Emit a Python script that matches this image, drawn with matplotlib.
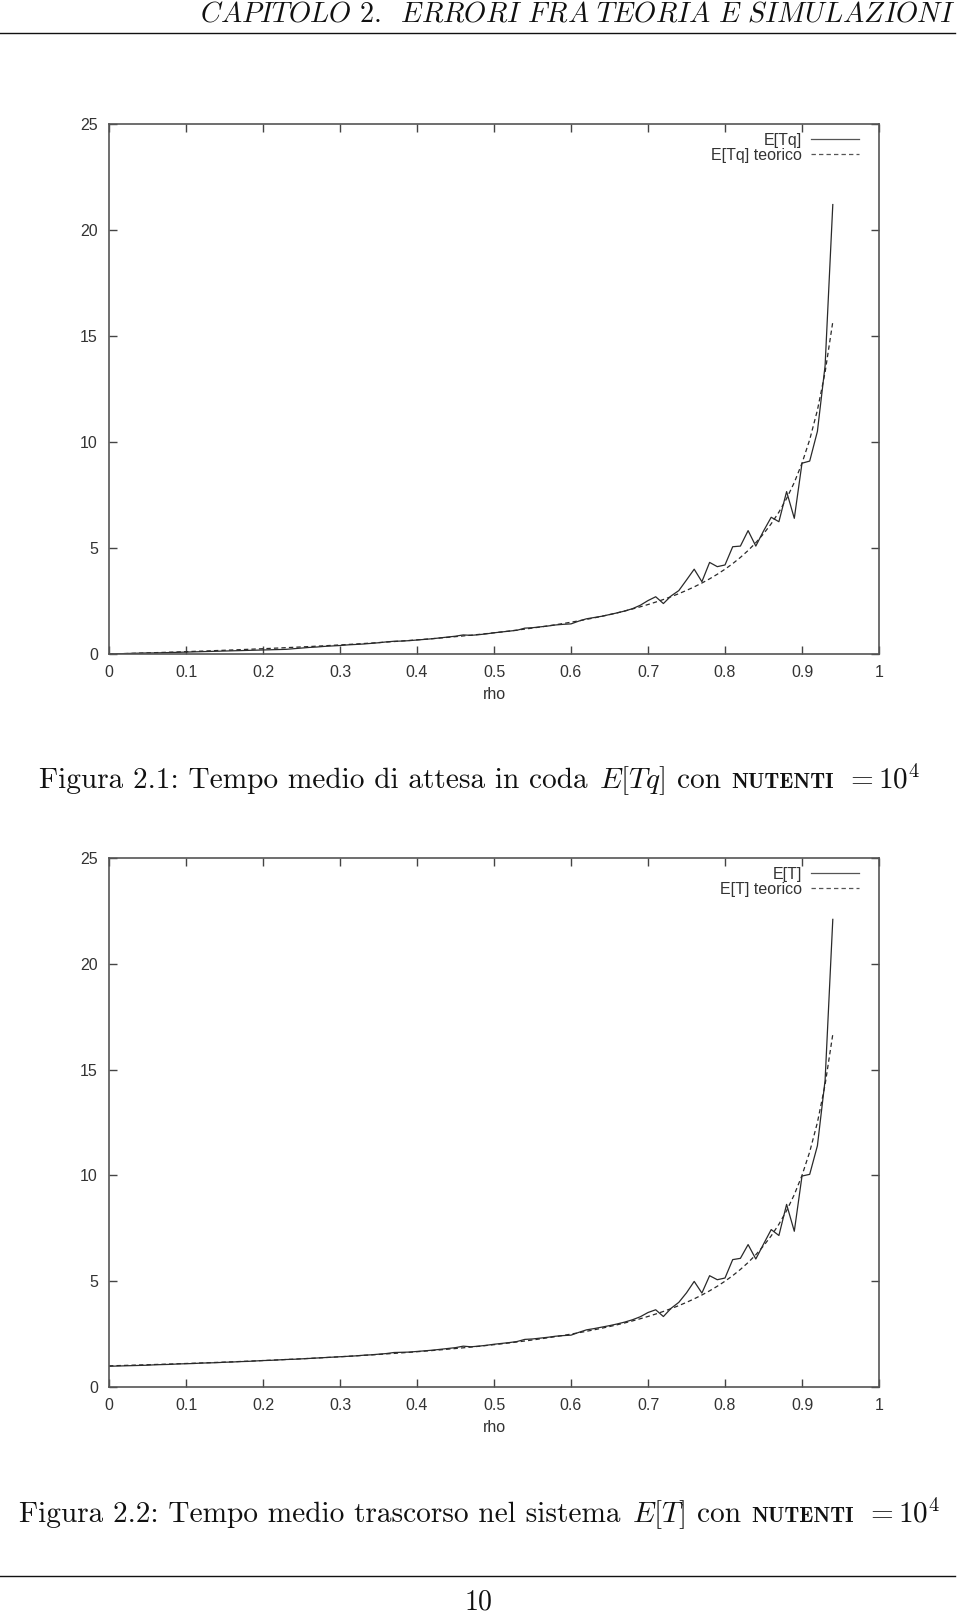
import matplotlib
matplotlib.use('Agg')
import matplotlib.pyplot as plt
from matplotlib.offsetbox import TextArea, HPacker, AnchoredOffsetbox
from matplotlib.lines import Line2D

plt.rcParams['mathtext.fontset'] = 'cm'

# ---------------- data ----------------
rho = [0.00, 0.01, 0.02, 0.03, 0.04, 0.05, 0.06, 0.07, 0.08, 0.09,
       0.10, 0.11, 0.12, 0.13, 0.14, 0.15, 0.16, 0.17, 0.18, 0.19,
       0.20, 0.21, 0.22, 0.23, 0.24, 0.25, 0.26, 0.27, 0.28, 0.29,
       0.30, 0.31, 0.32, 0.33, 0.34, 0.35, 0.36, 0.37, 0.38, 0.39,
       0.40, 0.41, 0.42, 0.43, 0.44, 0.45, 0.46, 0.47, 0.48, 0.49,
       0.50, 0.51, 0.52, 0.53, 0.54, 0.55, 0.56, 0.57, 0.58, 0.59,
       0.60, 0.61, 0.62, 0.63, 0.64, 0.65, 0.66, 0.67, 0.68, 0.69,
       0.70, 0.71, 0.72, 0.73, 0.74, 0.75, 0.76, 0.77, 0.78, 0.79,
       0.80, 0.81, 0.82, 0.83, 0.84, 0.85, 0.86, 0.87, 0.88, 0.89,
       0.90, 0.91, 0.92, 0.93, 0.94]

etq_sim = [0.00, 0.01, 0.02, 0.03, 0.04, 0.05, 0.05, 0.06, 0.07, 0.08,
           0.09, 0.10, 0.11, 0.12, 0.13, 0.14, 0.15, 0.16, 0.17, 0.18,
           0.19, 0.20, 0.21, 0.22, 0.25, 0.28, 0.31, 0.33, 0.36, 0.38,
           0.40, 0.43, 0.45, 0.47, 0.50, 0.53, 0.57, 0.60, 0.61, 0.63,
           0.66, 0.69, 0.72, 0.76, 0.80, 0.84, 0.90, 0.88, 0.91, 0.95,
           1.00, 1.04, 1.08, 1.12, 1.22, 1.24, 1.28, 1.32, 1.37, 1.40,
           1.42, 1.55, 1.66, 1.72, 1.78, 1.86, 1.94, 2.03, 2.14, 2.30,
           2.52, 2.70, 2.38, 2.74, 2.99, 3.49, 4.00, 3.41, 4.32, 4.12,
           4.20, 5.06, 5.09, 5.82, 5.09, 5.80, 6.45, 6.24, 7.66, 6.40,
           9.00, 9.10, 10.5, 13.6, 21.2]

etq_teo = [0.000, 0.010, 0.020, 0.031, 0.042, 0.053, 0.064, 0.075, 0.087, 0.099,
           0.111, 0.124, 0.136, 0.149, 0.163, 0.176, 0.190, 0.205, 0.220, 0.235,
           0.250, 0.266, 0.282, 0.299, 0.316, 0.333, 0.351, 0.370, 0.389, 0.408,
           0.429, 0.449, 0.471, 0.493, 0.515, 0.538, 0.563, 0.587, 0.613, 0.639,
           0.667, 0.695, 0.724, 0.754, 0.786, 0.818, 0.852, 0.887, 0.923, 0.961,
           1.000, 1.041, 1.083, 1.128, 1.174, 1.222, 1.273, 1.326, 1.381, 1.439,
           1.500, 1.564, 1.632, 1.703, 1.778, 1.857, 1.941, 2.030, 2.125, 2.226,
           2.333, 2.448, 2.571, 2.704, 2.846, 3.000, 3.167, 3.348, 3.545, 3.762,
           4.000, 4.263, 4.556, 4.882, 5.250, 5.667, 6.143, 6.692, 7.333, 8.091,
           9.000, 10.11, 11.50, 13.29, 15.67]

et_sim = [0.98, 0.99, 1.00, 1.01, 1.02, 1.03, 1.05, 1.06, 1.07, 1.09,
          1.10, 1.11, 1.13, 1.14, 1.15, 1.17, 1.18, 1.20, 1.21, 1.23,
          1.25, 1.26, 1.28, 1.30, 1.31, 1.33, 1.35, 1.37, 1.39, 1.41,
          1.43, 1.45, 1.47, 1.50, 1.52, 1.55, 1.58, 1.63, 1.64, 1.65,
          1.68, 1.71, 1.74, 1.78, 1.82, 1.86, 1.93, 1.90, 1.93, 1.97,
          2.02, 2.06, 2.10, 2.15, 2.25, 2.27, 2.31, 2.35, 2.40, 2.43,
          2.45, 2.58, 2.70, 2.76, 2.83, 2.90, 2.98, 3.07, 3.18, 3.32,
          3.52, 3.65, 3.33, 3.72, 4.00, 4.45, 4.99, 4.44, 5.26, 5.07,
          5.15, 6.02, 6.08, 6.73, 6.05, 6.75, 7.44, 7.16, 8.63, 7.36,
          9.97, 10.05, 11.4, 14.5, 22.1]

et_teo = [1.000, 1.010, 1.020, 1.031, 1.042, 1.053, 1.064, 1.075, 1.087, 1.099,
          1.111, 1.124, 1.136, 1.149, 1.163, 1.176, 1.190, 1.205, 1.220, 1.235,
          1.250, 1.266, 1.282, 1.299, 1.316, 1.333, 1.351, 1.370, 1.389, 1.408,
          1.429, 1.449, 1.471, 1.493, 1.515, 1.538, 1.563, 1.587, 1.613, 1.639,
          1.667, 1.695, 1.724, 1.754, 1.786, 1.818, 1.852, 1.887, 1.923, 1.961,
          2.000, 2.041, 2.083, 2.128, 2.174, 2.222, 2.273, 2.326, 2.381, 2.439,
          2.500, 2.564, 2.632, 2.703, 2.778, 2.857, 2.941, 3.030, 3.125, 3.226,
          3.333, 3.448, 3.571, 3.704, 3.846, 4.000, 4.167, 4.348, 4.545, 4.762,
          5.000, 5.263, 5.556, 5.882, 6.250, 6.667, 7.143, 7.692, 8.333, 9.091,
          10.00, 11.11, 12.50, 14.29, 16.67]

xticks = [0, 0.1, 0.2, 0.3, 0.4, 0.5, 0.6, 0.7, 0.8, 0.9, 1]
xticklabels = ['0', '0.1', '0.2', '0.3', '0.4', '0.5', '0.6', '0.7', '0.8', '0.9', '1']
yticks = [0, 5, 10, 15, 20, 25]
yticklabels = ['0', '5', '10', '15', '20', '25']

# ---------------- figure ----------------
W, H = 960, 1614
fig = plt.figure(figsize=(W / 100, H / 100), dpi=100)
fig.patch.set_facecolor('white')

SANS = ['Liberation Sans', 'DejaVu Sans']
ink = '#333333'
frame = '#555555'
FS = 11.5


def make_plot(top_px, bottom_px, y_sim, y_teo, lab_sim, lab_teo):
    left_px, right_px = 109, 879
    ax = fig.add_axes([left_px / W, 1 - bottom_px / H,
                       (right_px - left_px) / W, (bottom_px - top_px) / H])
    ax.plot(rho, y_sim, color='#2a2a2a', lw=0.9, ls='-', label=lab_sim)
    ax.plot(rho, y_teo, color='#2a2a2a', lw=0.9, ls=(0, (3.5, 2.5)), label=lab_teo)
    ax.set_xlim(0, 1)
    ax.set_ylim(0, 25)
    ax.set_xticks(xticks)
    ax.set_xticklabels(xticklabels, family=SANS, fontsize=FS, color=ink)
    ax.set_yticks(yticks)
    ax.set_yticklabels(yticklabels, family=SANS, fontsize=FS, color=ink)
    ax.tick_params(direction='in', length=6, width=1.0, color='#444444',
                   top=True, right=True, pad=8)
    for s in ax.spines.values():
        s.set_color(frame)
        s.set_linewidth(1.2)
    ax.set_xlabel('rho', family=SANS, fontsize=FS, color=ink, labelpad=5)
    leg = ax.legend(loc='upper right', frameon=False, markerfirst=False,
                    prop={'family': SANS, 'size': FS}, handlelength=3.0,
                    handletextpad=0.55, labelspacing=0.0,
                    borderaxespad=0.0, bbox_to_anchor=(0.982, 0.995))
    for line in leg.get_lines():
        line.set_color('#555555')
    for t in leg.get_texts():
        t.set_color(ink)
        t.set_ha('right')
    return ax


make_plot(124, 654, etq_sim, etq_teo, 'E[Tq]', 'E[Tq] teorico')
make_plot(858, 1387, et_sim, et_teo, 'E[T]', 'E[T] teorico')

# ---------------- page text ----------------
RM = 'cmr10'
fig.text(956 / W, 1 - 14 / H,
         r'$\mathit{CAPITOLO}$ 2.  $\mathit{ERRORI\ FRA\ TEORIA\ E\ SIMULAZIONI}$',
         ha='right', va='center', fontsize=20.3, family=RM, color='#111111')
fig.add_artist(Line2D([0, 955 / W], [1 - 33 / H, 1 - 33 / H],
                      transform=fig.transFigure, color='#111111', lw=1.0))
fig.add_artist(Line2D([0, 955 / W], [1 - 1576 / H, 1 - 1576 / H],
                      transform=fig.transFigure, color='#111111', lw=1.0))
fig.text(478 / W, 1 - 1602 / H, '10', ha='center', va='center',
         fontsize=20, family=RM, color='#111111')


def caption(lead, math, xc_px, yc_px):
    p_main = dict(family=RM, size=21.1, color='#111111')
    p_sc = dict(family='cmb10', size=15.5, color='#111111')
    boxes = [TextArea(lead, textprops=p_main),
             TextArea(math, textprops=p_main),
             TextArea('con', textprops=p_main),
             TextArea('NUTENTI', textprops=p_sc),
             TextArea(r'$=10^4$', textprops=p_main)]
    pack = HPacker(children=boxes, align='baseline', pad=0, sep=8)
    ab = AnchoredOffsetbox(loc='center', child=pack, frameon=False,
                           bbox_to_anchor=(xc_px / W, 1 - yc_px / H),
                           bbox_transform=fig.transFigure, pad=0, borderpad=0)
    fig.add_artist(ab)


caption('Figura 2.1: Tempo medio di attesa in coda', r'$E[Tq]$', 480, 781)
caption('Figura 2.2: Tempo medio trascorso nel sistema', r'$E[T]$', 480, 1515)

fig.savefig('out.png', dpi=100, facecolor='white')
